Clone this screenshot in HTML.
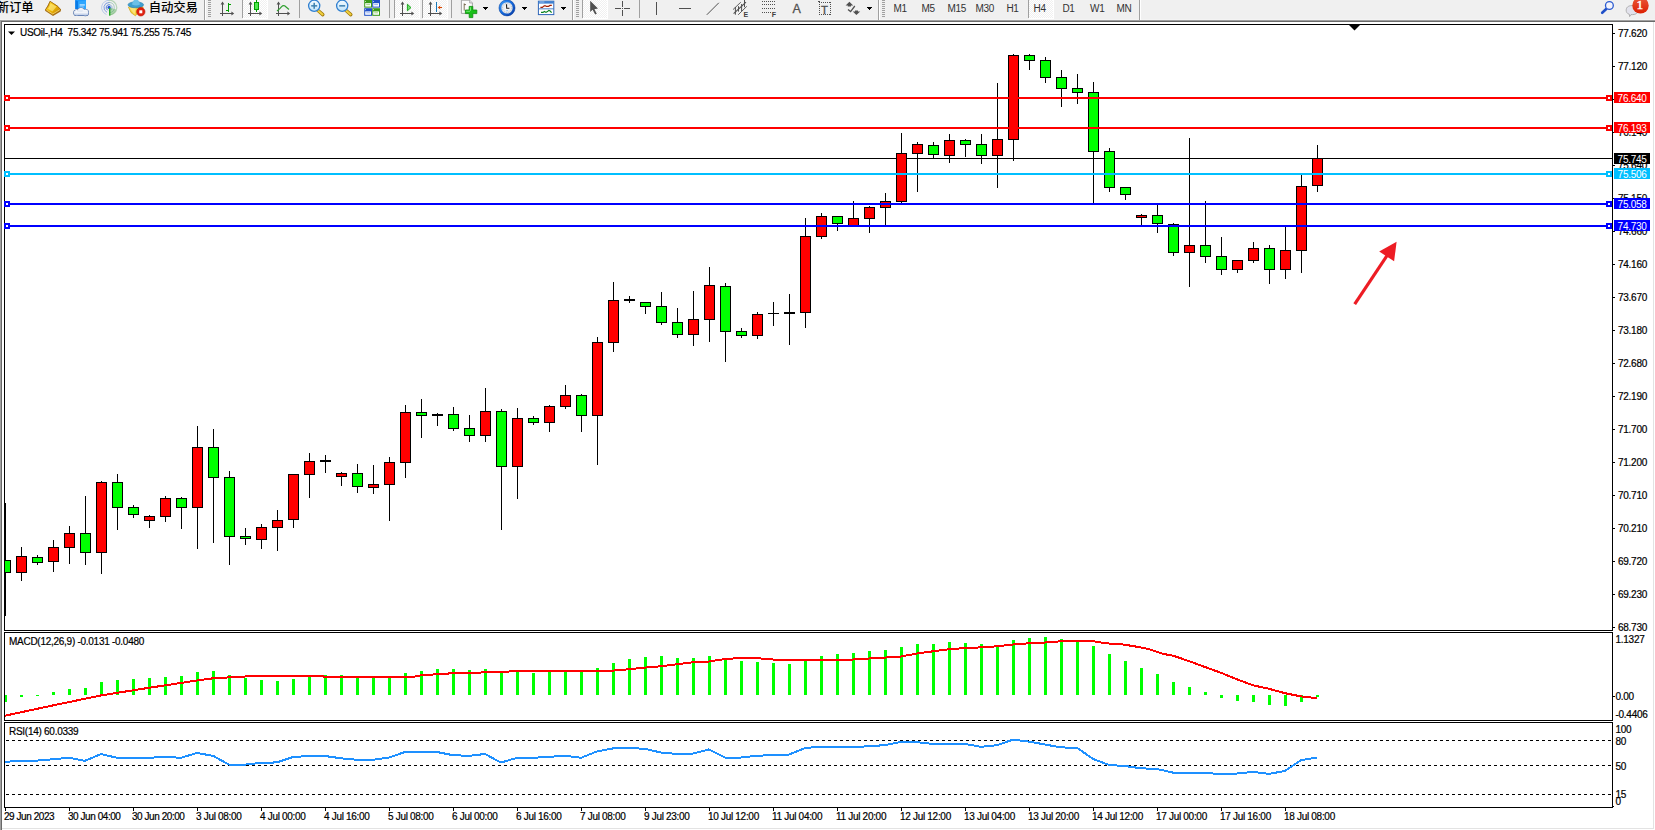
<!DOCTYPE html>
<html><head><meta charset="utf-8"><title>USOil-,H4</title>
<style>
html,body{margin:0;padding:0;background:#fff;}
body{width:1655px;height:830px;position:relative;overflow:hidden;font-family:"Liberation Sans","Noto Sans CJK SC",sans-serif;}
#tb{position:absolute;left:0;top:0;width:1655px;height:19px;background:#f0f0f0;}
.t{position:absolute;font-size:10px;line-height:12px;color:#000;white-space:pre;letter-spacing:-0.27px;margin-top:0.7px;-webkit-text-stroke:0.2px #000;}
.pl{left:1618px;}
.bx{position:absolute;left:1614px;width:36px;height:11px;}
.bx span{position:absolute;left:3.6px;top:0.6px;font-size:10px;line-height:12px;color:#fff;letter-spacing:-0.27px;}
.cj{position:absolute;font-size:12.4px;line-height:14px;color:#000;white-space:pre;font-weight:500;letter-spacing:-0.15px;}
.tf{position:absolute;top:3.4px;font-size:10px;line-height:12px;color:#333;letter-spacing:-0.3px;}
.sep{position:absolute;top:1px;width:1px;height:17px;background:#a0a0a0;}
.grip{position:absolute;top:2px;width:3px;height:15px;background:repeating-linear-gradient(#a0a0a0 0 1px,#f0f0f0 1px 2px);}
svg{position:absolute;left:0;top:0;}
</style></head><body>
<div id="tb"></div>
<div style="position:absolute;left:0;top:19px;width:1655px;height:1px;background:#f4f4f4"></div>
<div style="position:absolute;left:0;top:20px;width:1655px;height:1px;background:#a0a0a0"></div>
<div style="position:absolute;left:1px;top:21px;width:1654px;height:1px;background:#696969"></div>
<div style="position:absolute;left:0;top:20px;width:1px;height:810px;background:#a0a0a0"></div>
<div style="position:absolute;left:1px;top:21px;width:1px;height:809px;background:#696969"></div>
<div style="position:absolute;left:1653px;top:22px;width:1px;height:807px;background:#e3e3e3"></div>
<div style="position:absolute;left:2px;top:828px;width:1652px;height:1px;background:#e3e3e3"></div>
<svg width="1655" height="20" viewBox="0 0 1655 20" style="left:0;top:0">
<defs><pattern id="chk" width="2" height="2" patternUnits="userSpaceOnUse"><rect width="2" height="2" fill="#f0f0f0"/><rect width="1" height="1" fill="#fff"/><rect x="1" y="1" width="1" height="1" fill="#fff"/></pattern>
<linearGradient id="gold" x1="0" y1="0" x2="1" y2="1"><stop offset="0" stop-color="#ffe24a"/><stop offset="0.5" stop-color="#f0b800"/><stop offset="1" stop-color="#b87a10"/></linearGradient>
<linearGradient id="lens" x1="0" y1="0" x2="0" y2="1"><stop offset="0" stop-color="#f4fbff"/><stop offset="1" stop-color="#bfe3fa"/></linearGradient>
<linearGradient id="badge" x1="0" y1="0" x2="0" y2="1"><stop offset="0" stop-color="#ea5a3a"/><stop offset="1" stop-color="#dc1e00"/></linearGradient>
<linearGradient id="cndl" x1="0" y1="0" x2="1" y2="0"><stop offset="0" stop-color="#00b000"/><stop offset="0.5" stop-color="#60f060"/><stop offset="1" stop-color="#00b000"/></linearGradient>
<linearGradient id="cloud" x1="0" y1="0" x2="0" y2="1"><stop offset="0" stop-color="#ffffff"/><stop offset="1" stop-color="#b8c8e4"/></linearGradient>
<radialGradient id="clk" cx="0.5" cy="0.5" r="0.5"><stop offset="0" stop-color="#ffffff"/><stop offset="1" stop-color="#d0d8e0"/></radialGradient>
<linearGradient id="ring" x1="0" y1="0" x2="1" y2="1"><stop offset="0" stop-color="#3a9cf8"/><stop offset="0.5" stop-color="#1468dc"/><stop offset="1" stop-color="#0a40a8"/></linearGradient>
</defs>
<g shape-rendering="crispEdges"><rect x="243" y="0" width="24" height="18" fill="url(#chk)"/><rect x="242" y="0" width="1" height="18" fill="#a0a0a0"/><rect x="243" y="18" width="25" height="1" fill="#fff"/><rect x="267" y="0" width="1" height="19" fill="#fff"/></g>
<g shape-rendering="crispEdges"><rect x="395" y="0" width="24" height="18" fill="url(#chk)"/><rect x="394" y="0" width="1" height="18" fill="#a0a0a0"/><rect x="395" y="18" width="25" height="1" fill="#fff"/><rect x="419" y="0" width="1" height="19" fill="#fff"/></g>
<g shape-rendering="crispEdges"><rect x="423" y="0" width="24" height="18" fill="url(#chk)"/><rect x="422" y="0" width="1" height="18" fill="#a0a0a0"/><rect x="423" y="18" width="25" height="1" fill="#fff"/><rect x="447" y="0" width="1" height="19" fill="#fff"/></g>
<g shape-rendering="crispEdges"><rect x="583" y="0" width="24" height="18" fill="url(#chk)"/><rect x="582" y="0" width="1" height="18" fill="#a0a0a0"/><rect x="583" y="18" width="25" height="1" fill="#fff"/><rect x="607" y="0" width="1" height="19" fill="#fff"/></g>
<g shape-rendering="crispEdges"><rect x="1029" y="0" width="24" height="18" fill="url(#chk)"/><rect x="1028" y="0" width="1" height="18" fill="#a0a0a0"/><rect x="1029" y="18" width="25" height="1" fill="#fff"/><rect x="1053" y="0" width="1" height="19" fill="#fff"/></g>
<rect x="204" y="0" width="1" height="20" fill="#a0a0a0" shape-rendering="crispEdges"/>
<rect x="205" y="0" width="1" height="20" fill="#fff" shape-rendering="crispEdges"/>
<rect x="208" y="0" width="3" height="1" fill="#a0a0a0" shape-rendering="crispEdges"/>
<rect x="208" y="2" width="3" height="1" fill="#a0a0a0" shape-rendering="crispEdges"/>
<rect x="208" y="4" width="3" height="1" fill="#a0a0a0" shape-rendering="crispEdges"/>
<rect x="208" y="6" width="3" height="1" fill="#a0a0a0" shape-rendering="crispEdges"/>
<rect x="208" y="8" width="3" height="1" fill="#a0a0a0" shape-rendering="crispEdges"/>
<rect x="208" y="10" width="3" height="1" fill="#a0a0a0" shape-rendering="crispEdges"/>
<rect x="208" y="12" width="3" height="1" fill="#a0a0a0" shape-rendering="crispEdges"/>
<rect x="208" y="14" width="3" height="1" fill="#a0a0a0" shape-rendering="crispEdges"/>
<rect x="208" y="16" width="3" height="1" fill="#a0a0a0" shape-rendering="crispEdges"/>
<rect x="299" y="0" width="1" height="18" fill="#a0a0a0" shape-rendering="crispEdges"/>
<rect x="389" y="0" width="1" height="18" fill="#a0a0a0" shape-rendering="crispEdges"/>
<rect x="451" y="0" width="1" height="18" fill="#a0a0a0" shape-rendering="crispEdges"/>
<rect x="572" y="0" width="1" height="20" fill="#a0a0a0" shape-rendering="crispEdges"/>
<rect x="573" y="0" width="1" height="20" fill="#fff" shape-rendering="crispEdges"/>
<rect x="576" y="0" width="3" height="1" fill="#a0a0a0" shape-rendering="crispEdges"/>
<rect x="576" y="2" width="3" height="1" fill="#a0a0a0" shape-rendering="crispEdges"/>
<rect x="576" y="4" width="3" height="1" fill="#a0a0a0" shape-rendering="crispEdges"/>
<rect x="576" y="6" width="3" height="1" fill="#a0a0a0" shape-rendering="crispEdges"/>
<rect x="576" y="8" width="3" height="1" fill="#a0a0a0" shape-rendering="crispEdges"/>
<rect x="576" y="10" width="3" height="1" fill="#a0a0a0" shape-rendering="crispEdges"/>
<rect x="576" y="12" width="3" height="1" fill="#a0a0a0" shape-rendering="crispEdges"/>
<rect x="576" y="14" width="3" height="1" fill="#a0a0a0" shape-rendering="crispEdges"/>
<rect x="576" y="16" width="3" height="1" fill="#a0a0a0" shape-rendering="crispEdges"/>
<rect x="639" y="0" width="1" height="18" fill="#a0a0a0" shape-rendering="crispEdges"/>
<rect x="878" y="0" width="1" height="20" fill="#a0a0a0" shape-rendering="crispEdges"/>
<rect x="879" y="0" width="1" height="20" fill="#fff" shape-rendering="crispEdges"/>
<rect x="882" y="0" width="3" height="1" fill="#a0a0a0" shape-rendering="crispEdges"/>
<rect x="882" y="2" width="3" height="1" fill="#a0a0a0" shape-rendering="crispEdges"/>
<rect x="882" y="4" width="3" height="1" fill="#a0a0a0" shape-rendering="crispEdges"/>
<rect x="882" y="6" width="3" height="1" fill="#a0a0a0" shape-rendering="crispEdges"/>
<rect x="882" y="8" width="3" height="1" fill="#a0a0a0" shape-rendering="crispEdges"/>
<rect x="882" y="10" width="3" height="1" fill="#a0a0a0" shape-rendering="crispEdges"/>
<rect x="882" y="12" width="3" height="1" fill="#a0a0a0" shape-rendering="crispEdges"/>
<rect x="882" y="14" width="3" height="1" fill="#a0a0a0" shape-rendering="crispEdges"/>
<rect x="882" y="16" width="3" height="1" fill="#a0a0a0" shape-rendering="crispEdges"/>
<rect x="1139" y="0" width="1" height="20" fill="#a0a0a0" shape-rendering="crispEdges"/>
<rect x="1140" y="0" width="1" height="20" fill="#fff" shape-rendering="crispEdges"/>
<path d="M50 1.2 L57.4 5.8 L61 9.8 L60.6 11.6 L53 16 L45 10.8 L45.4 9.4 Z" fill="#a87014"/>
<path d="M50 1.3 Q53.4 3.4 57.2 6 L60.8 9.6 L52.8 14.4 L45.5 9.6 Q48.6 6.4 50 1.3 Z" fill="url(#gold)" stroke="#a06810" stroke-width="0.8"/>
<path d="M50.6 3.4 Q53.6 4.6 56.6 6.6 L52.4 11.4 L48 8.8 Q49.8 6.4 50.6 3.4Z" fill="#fff2a0" opacity="0.55"/>
<path d="M46.4 10 L52.8 14 L59.8 9.8" fill="none" stroke="#ffe070" stroke-width="0.8"/>
<path d="M75.3 0 L86 0 L86 9 L75.3 9 Z" fill="#1e9bff"/><path d="M75.3 0 L78.2 1.6 L78.2 9 L75.3 9 Z" fill="#0a7be6"/><path d="M78.2 1.6 L86 0.4 L86 9 L78.2 9Z" fill="#2ea6ff"/>
<rect x="79.6" y="4.4" width="5.2" height="1.1" fill="#e8f4ff"/><rect x="79.6" y="6.6" width="4" height="0.9" fill="#bfe0ff"/>
<g fill="#4f6fa8" stroke="#4f6fa8" stroke-width="1.2"><circle cx="76.6" cy="12.8" r="2.7"/><circle cx="81" cy="11.3" r="3.3"/><circle cx="85.4" cy="12.6" r="3"/><rect x="74.3" y="11.8" width="13.8" height="3.5" rx="1.75"/></g><g fill="url(#cloud)"><circle cx="76.6" cy="12.8" r="2.7"/><circle cx="81" cy="11.3" r="3.3"/><circle cx="85.4" cy="12.6" r="3"/><rect x="74.3" y="11.8" width="13.8" height="3.5" rx="1.75"/></g>
<g fill="none" stroke-linecap="round"><path d="M109.1 0.1999999999999993 A7.4 7.4 0 0 0 106.1 14.399999999999999" stroke="#7f9fe0" stroke-width="0.9" opacity="0.55"/><path d="M109.1 2.3999999999999995 A5.2 5.2 0 0 0 106.69999999999999 12.2" stroke="#4f78d8" stroke-width="1" opacity="0.7"/><path d="M109.1 4.6 A3 3 0 0 0 107.5 10.1" stroke="#3a66d0" stroke-width="1" opacity="0.8"/>
<path d="M109.1 0.1999999999999993 A7.4 7.4 0 0 1 109.6 15.0" stroke="#8fc08f" stroke-width="1.2" opacity="0.6"/><path d="M109.1 2.3999999999999995 A5.2 5.2 0 0 1 110.1 12.7" stroke="#7fb0a8" stroke-width="1" opacity="0.6"/><path d="M109.1 4.6 A3 3 0 0 1 111.1 9.8" stroke="#6a98c8" stroke-width="1" opacity="0.7"/></g>
<path d="M109.3 7.6 L116.1 9.6 A7.4 7.4 0 0 1 109.5 15.399999999999999 Z" fill="#58b058" opacity="0.45"/>
<circle cx="109.1" cy="7.3999999999999995" r="1.6" fill="#2458d0"/><rect x="109.0" y="8.0" width="1.4" height="7.6" fill="#20a820"/>
<path d="M128.4 7 L143.4 7 L139 12 L135.4 15.8 L131 12.6 Z" fill="#f4d23c" stroke="#d0a020" stroke-width="0.7"/>
<path d="M129 7.2 L136 7.2 L134.5 14.6 Z" fill="#fbe98a" opacity="0.8"/>
<ellipse cx="135.8" cy="4.8" rx="7.8" ry="3" fill="#3f9fd0" stroke="#2a80b0" stroke-width="0.6"/><path d="M132 4.6 Q132.6 0.6 134.6 -0.4 L137.4 -0.4 Q139.4 0.6 140 4.6 Q136 6.4 132 4.6Z" fill="#6cc0e8"/>
<circle cx="140.8" cy="11.8" r="4.2" fill="#e02010"/><circle cx="140.8" cy="11.8" r="4.2" fill="none" stroke="#b81808" stroke-width="0.6"/><rect x="139.3" y="10.3" width="3" height="3" fill="#fff"/>
<g shape-rendering="crispEdges" fill="#505050"><rect x="222" y="3" width="1" height="13"/><rect x="220" y="13" width="13" height="1"/></g>
<path d="M222.5 1.6 L224.4 4.6 L220.6 4.6 Z M234.2 13.5 L231.4 11.6 L231.4 15.4 Z" fill="#505050"/>
<g shape-rendering="crispEdges" fill="#505050"><rect x="250" y="3" width="1" height="13"/><rect x="248" y="13" width="13" height="1"/></g>
<path d="M250.5 1.6 L252.4 4.6 L248.6 4.6 Z M262.2 13.5 L259.4 11.6 L259.4 15.4 Z" fill="#505050"/>
<g shape-rendering="crispEdges" fill="#505050"><rect x="278" y="3" width="1" height="13"/><rect x="276" y="13" width="13" height="1"/></g>
<path d="M278.5 1.6 L280.4 4.6 L276.6 4.6 Z M290.2 13.5 L287.4 11.6 L287.4 15.4 Z" fill="#505050"/>
<g shape-rendering="crispEdges" fill="#505050"><rect x="402" y="3" width="1" height="13"/><rect x="400" y="13" width="13" height="1"/></g>
<path d="M402.5 1.6 L404.4 4.6 L400.6 4.6 Z M414.2 13.5 L411.4 11.6 L411.4 15.4 Z" fill="#505050"/>
<g shape-rendering="crispEdges" fill="#505050"><rect x="430" y="3" width="1" height="13"/><rect x="428" y="13" width="13" height="1"/></g>
<path d="M430.5 1.6 L432.4 4.6 L428.6 4.6 Z M442.2 13.5 L439.4 11.6 L439.4 15.4 Z" fill="#505050"/>
<g shape-rendering="crispEdges" fill="#00a000"><rect x="228" y="3" width="1" height="9"/><rect x="228" y="4" width="3" height="1"/><rect x="226" y="10" width="3" height="1"/></g>
<g shape-rendering="crispEdges"><rect x="256" y="0" width="1" height="12" fill="#00a000"/><rect x="254" y="2" width="5" height="8" fill="#00a000"/><rect x="255" y="3" width="3" height="6" fill="#50e850"/></g>
<path d="M277 11 Q280 8.6 281.4 6.8 Q283 5 284.6 5.8 Q286.6 7.6 289 9.4" fill="none" stroke="#30a030" stroke-width="1.2"/>
<path d="M407.4 4.2 L411 7.6 L407.4 10.8 Z" fill="#70e070" stroke="#10a010" stroke-width="0.9"/>
<rect x="436" y="2" width="1" height="10" fill="#1878b8" shape-rendering="crispEdges"/><path d="M437.6 7.5 L440.4 5.6 L440 7.1 L442 7.1 L442 7.9 L440 7.9 L440.4 9.4 Z" fill="#d84800"/>
<line x1="317.8" y1="10.2" x2="322.8" y2="14.6" stroke="#a07808" stroke-width="3.4" stroke-linecap="round"/><line x1="318.0" y1="10.4" x2="322.59999999999997" y2="14.4" stroke="#f0d040" stroke-width="2" stroke-linecap="round"/>
<circle cx="314.2" cy="5.8" r="5.6" fill="url(#lens)" stroke="#2f7fd0" stroke-width="1.3"/>
<rect x="311.2" y="5.1" width="6" height="1.5" fill="#3c80b0"/>
<rect x="313.45" y="2.8" width="1.5" height="6" fill="#3c80b0"/>
<line x1="345.8" y1="10.2" x2="350.8" y2="14.6" stroke="#a07808" stroke-width="3.4" stroke-linecap="round"/><line x1="346.0" y1="10.4" x2="350.59999999999997" y2="14.4" stroke="#f0d040" stroke-width="2" stroke-linecap="round"/>
<circle cx="342.2" cy="5.8" r="5.6" fill="url(#lens)" stroke="#2f7fd0" stroke-width="1.3"/>
<rect x="339.2" y="5.1" width="6" height="1.5" fill="#3c80b0"/>
<rect x="364.2" y="0" width="7.8" height="7.6" fill="#3a9a18"/><rect x="365.2" y="3.2" width="5.8" height="3.4" fill="#fff"/><rect x="366.2" y="4.2" width="3.8" height="0.9" fill="#9ad070"/><rect x="365.0" y="1" width="0.9" height="0.9" fill="#fff" opacity="0.8"/>
<rect x="372.2" y="0" width="7.8" height="7.6" fill="#2050c8"/><rect x="373.2" y="3.2" width="5.8" height="3.4" fill="#fff"/><rect x="374.2" y="4.2" width="3.8" height="0.9" fill="#88a8f0"/><rect x="373.0" y="1" width="0.9" height="0.9" fill="#fff" opacity="0.8"/>
<rect x="364.2" y="8.2" width="7.8" height="7.6" fill="#2050c8"/><rect x="365.2" y="11.399999999999999" width="5.8" height="3.4" fill="#fff"/><rect x="366.2" y="12.399999999999999" width="3.8" height="0.9" fill="#88a8f0"/><rect x="365.0" y="9.2" width="0.9" height="0.9" fill="#fff" opacity="0.8"/>
<rect x="372.2" y="8.2" width="7.8" height="7.6" fill="#3a9a18"/><rect x="373.2" y="11.399999999999999" width="5.8" height="3.4" fill="#fff"/><rect x="374.2" y="12.399999999999999" width="3.8" height="0.9" fill="#9ad070"/><rect x="373.0" y="9.2" width="0.9" height="0.9" fill="#fff" opacity="0.8"/>
<path d="M461.4 0.2 L469.6 0.2 L472.4 3 L472.4 13.4 L461.4 13.4 Z" fill="#fafafa" stroke="#909090" stroke-width="0.8"/><path d="M469.6 0.2 L469.6 3 L472.4 3" fill="#e0e0e0" stroke="#909090" stroke-width="0.6"/><path d="M464.2 3.4 L464.2 10.6 M464.2 4.6 L466 4.6" stroke="#605030" stroke-width="0.8" fill="none"/>
<path d="M469.2 6.4 L472.8 6.4 L472.8 10 L476.8 10 L476.8 13.6 L472.8 13.6 L472.8 17.6 L469.2 17.6 L469.2 13.6 L465.4 13.6 L465.4 10 L469.2 10 Z" fill="#18c018" stroke="#0a8a0a" stroke-width="0.8"/><path d="M469.9 7.2 L471 7.2 L471 10.8 L466.2 10.8 L466.2 11.8 L470 11.8Z" fill="#90f090" opacity="0.8"/>
<g shape-rendering="crispEdges" fill="#000"><rect x="483" y="7" width="5" height="1"/><rect x="484" y="8" width="3" height="1"/><rect x="485" y="9" width="1" height="1"/></g>
<g shape-rendering="crispEdges" fill="#000"><rect x="522" y="7" width="5" height="1"/><rect x="523" y="8" width="3" height="1"/><rect x="524" y="9" width="1" height="1"/></g>
<g shape-rendering="crispEdges" fill="#000"><rect x="561" y="7" width="5" height="1"/><rect x="562" y="8" width="3" height="1"/><rect x="563" y="9" width="1" height="1"/></g>
<g shape-rendering="crispEdges" fill="#000"><rect x="867" y="7" width="5" height="1"/><rect x="868" y="8" width="3" height="1"/><rect x="869" y="9" width="1" height="1"/></g>
<circle cx="507" cy="7.9" r="6.9" fill="url(#clk)" stroke="url(#ring)" stroke-width="2.4"/><circle cx="507" cy="7.9" r="8.05" fill="none" stroke="#0a3c98" stroke-width="0.5"/><circle cx="507" cy="7.9" r="4.6" fill="none" stroke="#9aa4b0" stroke-width="0.8" stroke-dasharray="0.6 1.81"/><path d="M506.5 4.2 L506.7 8.2 L509.4 8.3" fill="none" stroke="#181818" stroke-width="1.1"/><rect x="506.2" y="10.4" width="1.8" height="0.7" fill="#70b0f8"/>
<rect x="505.2" y="-0.6" width="3.6" height="1.2" fill="#1a70e0"/>
<rect x="538.4" y="1.2" width="15.4" height="13.4" fill="#fff" stroke="#2f66b8" stroke-width="1"/><rect x="538.4" y="1.2" width="15.4" height="2.4" fill="#3f80d0"/><rect x="539.4" y="1.6" width="5" height="0.8" fill="#b0d0f8"/><rect x="538.4" y="8.4" width="15.4" height="0.9" fill="#3a74c0"/>
<path d="M540.4 7.4 L542.4 7.4 L543.6 6.2 L545 5.6 L546.4 6.4 L548.4 6.4 L550 5.4 L551.8 5.4" fill="none" stroke="#a01c00" stroke-width="1.2"/><path d="M541 12.4 L543 12.4 L544.4 11.4 L546 12.4 L547.4 11.6 L548.8 10.4 L550.2 11 L551.6 12.6" fill="none" stroke="#0c8420" stroke-width="1.2"/>
<path d="M590.2 0.8 L590.2 12 L592.6 9.8 L595.2 14.6 L596.8 13.8 L594.4 9.2 L598 8.6 Z" fill="#505050"/>
<g shape-rendering="crispEdges" fill="#505050"><rect x="615" y="8" width="6" height="1"/><rect x="624" y="8" width="6" height="1"/><rect x="622" y="1" width="1" height="6"/><rect x="622" y="10" width="1" height="6"/><rect x="622" y="8" width="1" height="1"/></g>
<g shape-rendering="crispEdges" fill="#505050"><rect x="656" y="2" width="1" height="13"/><rect x="679" y="8" width="12" height="1"/></g>
<line x1="706.8" y1="14.8" x2="718.8" y2="2.8" stroke="#505050" stroke-width="1"/>
<g stroke="#505050" stroke-width="0.9" fill="none"><line x1="733" y1="9.6" x2="740.8" y2="2.2"/><line x1="738.2" y1="14.8" x2="746.8" y2="6.3"/><line x1="733.6" y1="13.6" x2="746" y2="2.2" stroke-width="1.1"/><line x1="735.4" y1="7" x2="735.4" y2="14.7" stroke-width="1"/><line x1="738.5" y1="6.2" x2="738.5" y2="11.6" stroke-width="1"/><line x1="741.6" y1="4" x2="741.6" y2="11" stroke-width="1"/><line x1="744.5" y1="0" x2="744.5" y2="7.2" stroke-width="1"/></g>
<rect x="762" y="1" width="1" height="1" fill="#505050" shape-rendering="crispEdges"/>
<rect x="764" y="1" width="1" height="1" fill="#505050" shape-rendering="crispEdges"/>
<rect x="766" y="1" width="1" height="1" fill="#505050" shape-rendering="crispEdges"/>
<rect x="768" y="1" width="1" height="1" fill="#505050" shape-rendering="crispEdges"/>
<rect x="770" y="1" width="1" height="1" fill="#505050" shape-rendering="crispEdges"/>
<rect x="772" y="1" width="1" height="1" fill="#505050" shape-rendering="crispEdges"/>
<rect x="774" y="1" width="1" height="1" fill="#505050" shape-rendering="crispEdges"/>
<rect x="762" y="4" width="1" height="1" fill="#505050" shape-rendering="crispEdges"/>
<rect x="764" y="4" width="1" height="1" fill="#505050" shape-rendering="crispEdges"/>
<rect x="766" y="4" width="1" height="1" fill="#505050" shape-rendering="crispEdges"/>
<rect x="768" y="4" width="1" height="1" fill="#505050" shape-rendering="crispEdges"/>
<rect x="770" y="4" width="1" height="1" fill="#505050" shape-rendering="crispEdges"/>
<rect x="772" y="4" width="1" height="1" fill="#505050" shape-rendering="crispEdges"/>
<rect x="774" y="4" width="1" height="1" fill="#505050" shape-rendering="crispEdges"/>
<rect x="762" y="8" width="1" height="1" fill="#505050" shape-rendering="crispEdges"/>
<rect x="764" y="8" width="1" height="1" fill="#505050" shape-rendering="crispEdges"/>
<rect x="766" y="8" width="1" height="1" fill="#505050" shape-rendering="crispEdges"/>
<rect x="768" y="8" width="1" height="1" fill="#505050" shape-rendering="crispEdges"/>
<rect x="770" y="8" width="1" height="1" fill="#505050" shape-rendering="crispEdges"/>
<rect x="772" y="8" width="1" height="1" fill="#505050" shape-rendering="crispEdges"/>
<rect x="774" y="8" width="1" height="1" fill="#505050" shape-rendering="crispEdges"/>
<rect x="762" y="12" width="1" height="1" fill="#505050" shape-rendering="crispEdges"/>
<rect x="764" y="12" width="1" height="1" fill="#505050" shape-rendering="crispEdges"/>
<rect x="766" y="12" width="1" height="1" fill="#505050" shape-rendering="crispEdges"/>
<rect x="768" y="12" width="1" height="1" fill="#505050" shape-rendering="crispEdges"/>
<rect x="770" y="12" width="1" height="1" fill="#505050" shape-rendering="crispEdges"/>
<rect x="819" y="2" width="1" height="1" fill="#505050" shape-rendering="crispEdges"/><rect x="819" y="14" width="1" height="1" fill="#505050" shape-rendering="crispEdges"/>
<rect x="821" y="2" width="1" height="1" fill="#505050" shape-rendering="crispEdges"/><rect x="821" y="14" width="1" height="1" fill="#505050" shape-rendering="crispEdges"/>
<rect x="823" y="2" width="1" height="1" fill="#505050" shape-rendering="crispEdges"/><rect x="823" y="14" width="1" height="1" fill="#505050" shape-rendering="crispEdges"/>
<rect x="825" y="2" width="1" height="1" fill="#505050" shape-rendering="crispEdges"/><rect x="825" y="14" width="1" height="1" fill="#505050" shape-rendering="crispEdges"/>
<rect x="827" y="2" width="1" height="1" fill="#505050" shape-rendering="crispEdges"/><rect x="827" y="14" width="1" height="1" fill="#505050" shape-rendering="crispEdges"/>
<rect x="829" y="2" width="1" height="1" fill="#505050" shape-rendering="crispEdges"/><rect x="829" y="14" width="1" height="1" fill="#505050" shape-rendering="crispEdges"/>
<rect x="819" y="2" width="1" height="1" fill="#505050" shape-rendering="crispEdges"/><rect x="830" y="2" width="1" height="1" fill="#505050" shape-rendering="crispEdges"/>
<rect x="819" y="4" width="1" height="1" fill="#505050" shape-rendering="crispEdges"/><rect x="830" y="4" width="1" height="1" fill="#505050" shape-rendering="crispEdges"/>
<rect x="819" y="6" width="1" height="1" fill="#505050" shape-rendering="crispEdges"/><rect x="830" y="6" width="1" height="1" fill="#505050" shape-rendering="crispEdges"/>
<rect x="819" y="8" width="1" height="1" fill="#505050" shape-rendering="crispEdges"/><rect x="830" y="8" width="1" height="1" fill="#505050" shape-rendering="crispEdges"/>
<rect x="819" y="10" width="1" height="1" fill="#505050" shape-rendering="crispEdges"/><rect x="830" y="10" width="1" height="1" fill="#505050" shape-rendering="crispEdges"/>
<rect x="819" y="12" width="1" height="1" fill="#505050" shape-rendering="crispEdges"/><rect x="830" y="12" width="1" height="1" fill="#505050" shape-rendering="crispEdges"/>
<rect x="819" y="14" width="1" height="1" fill="#505050" shape-rendering="crispEdges"/><rect x="830" y="14" width="1" height="1" fill="#505050" shape-rendering="crispEdges"/>
<rect x="818" y="1" width="2" height="1" fill="#505050" shape-rendering="crispEdges"/>
<path d="M849.4 1.8 L853.2 5.4 L851 5.4 L851 6.4 L847.8 6.4 L847.8 5.4 L845.6 5.4 Z" fill="#505050"/><path d="M848 9.4 L850.6 11.6 L854.8 6" fill="none" stroke="#505050" stroke-width="1.3"/><path d="M856.4 15 L852.8 11.4 L855 11.4 L855 10.4 L858 10.4 L858 11.4 L860.2 11.4 Z" fill="#505050"/>
<line x1="1606.2" y1="9" x2="1602.2" y2="12.8" stroke="#2050c8" stroke-width="2.6" stroke-linecap="round"/><circle cx="1609.4" cy="5.5" r="3.9" fill="#f4f4fc" stroke="#2a5ad0" stroke-width="1.3"/>
<path d="M1632 5.6 C1636 5.6 1638 7.6 1638 10.2 C1638 13 1636 14.6 1632.6 14.6 L1631 14.6 L1629.6 16.6 L1629.4 14.4 C1627 13.6 1626.2 12 1626.2 10.2 C1626.2 7.6 1628 5.6 1632 5.6 Z" fill="#e2e2ec" stroke="#a8a8a8" stroke-width="0.9"/>
<circle cx="1640.5" cy="5.4" r="8.2" fill="url(#badge)"/>
</svg>
<div class="cj" style="left:-3.2px;top:0.8px">新订单</div>
<div class="cj" style="left:148.8px;top:0.8px">自动交易</div>
<div class="tf" style="left:893.4px">M1</div>
<div class="tf" style="left:921.4px">M5</div>
<div class="tf" style="left:947.4px">M15</div>
<div class="tf" style="left:975.4px">M30</div>
<div class="tf" style="left:1006.4px">H1</div>
<div class="tf" style="left:1033.6px">H4</div>
<div class="tf" style="left:1062.4px">D1</div>
<div class="tf" style="left:1090px">W1</div>
<div class="tf" style="left:1116.4px">MN</div>
<div style="position:absolute;left:792.4px;top:2.2px;font-size:12.5px;line-height:14px;color:#505050;-webkit-text-stroke:0.3px #505050">A</div>
<div style="position:absolute;left:820.9px;top:2.6px;font-size:11.4px;line-height:14px;color:#505050;-webkit-text-stroke:0.35px #505050">T</div>
<div style="position:absolute;left:743.6px;top:11.3px;font-size:7px;line-height:8px;font-weight:bold;color:#404040">E</div>
<div style="position:absolute;left:771.8px;top:11.3px;font-size:7px;line-height:8px;font-weight:bold;color:#404040">F</div>
<div style="position:absolute;left:1636.6px;top:-1.9px;font-size:13.4px;line-height:14px;font-family:'Liberation Serif',serif;font-weight:normal;-webkit-text-stroke:0.45px #fff;color:#fff">1</div>

<svg width="1655" height="830" viewBox="0 0 1655 830" shape-rendering="crispEdges">
<rect x="5" y="158" width="1607" height="1" fill="#000"/>
<rect x="5" y="503" width="1" height="113" fill="#000"/>
<rect x="5" y="560" width="6" height="13" fill="#000"/>
<rect x="5" y="561" width="5" height="11" fill="#0f0"/>
<rect x="21" y="547" width="1" height="34" fill="#000"/>
<rect x="16" y="556" width="11" height="17" fill="#000"/>
<rect x="17" y="557" width="9" height="15" fill="#f00"/>
<rect x="37" y="555" width="1" height="10" fill="#000"/>
<rect x="32" y="557" width="11" height="6" fill="#000"/>
<rect x="33" y="558" width="9" height="4" fill="#0f0"/>
<rect x="53" y="540" width="1" height="32" fill="#000"/>
<rect x="48" y="547" width="11" height="15" fill="#000"/>
<rect x="49" y="548" width="9" height="13" fill="#f00"/>
<rect x="69" y="526" width="1" height="38" fill="#000"/>
<rect x="64" y="533" width="11" height="15" fill="#000"/>
<rect x="65" y="534" width="9" height="13" fill="#f00"/>
<rect x="85" y="496" width="1" height="69" fill="#000"/>
<rect x="80" y="533" width="11" height="20" fill="#000"/>
<rect x="81" y="534" width="9" height="18" fill="#0f0"/>
<rect x="101" y="481" width="1" height="93" fill="#000"/>
<rect x="96" y="482" width="11" height="71" fill="#000"/>
<rect x="97" y="483" width="9" height="69" fill="#f00"/>
<rect x="117" y="474" width="1" height="56" fill="#000"/>
<rect x="112" y="482" width="11" height="26" fill="#000"/>
<rect x="113" y="483" width="9" height="24" fill="#0f0"/>
<rect x="133" y="505" width="1" height="13" fill="#000"/>
<rect x="128" y="507" width="11" height="8" fill="#000"/>
<rect x="129" y="508" width="9" height="6" fill="#0f0"/>
<rect x="149" y="515" width="1" height="13" fill="#000"/>
<rect x="144" y="516" width="11" height="5" fill="#000"/>
<rect x="145" y="517" width="9" height="3" fill="#f00"/>
<rect x="165" y="496" width="1" height="26" fill="#000"/>
<rect x="160" y="498" width="11" height="19" fill="#000"/>
<rect x="161" y="499" width="9" height="17" fill="#f00"/>
<rect x="181" y="497" width="1" height="32" fill="#000"/>
<rect x="176" y="498" width="11" height="10" fill="#000"/>
<rect x="177" y="499" width="9" height="8" fill="#0f0"/>
<rect x="197" y="426" width="1" height="123" fill="#000"/>
<rect x="192" y="447" width="11" height="61" fill="#000"/>
<rect x="193" y="448" width="9" height="59" fill="#f00"/>
<rect x="213" y="429" width="1" height="114" fill="#000"/>
<rect x="208" y="447" width="11" height="31" fill="#000"/>
<rect x="209" y="448" width="9" height="29" fill="#0f0"/>
<rect x="229" y="471" width="1" height="94" fill="#000"/>
<rect x="224" y="477" width="11" height="60" fill="#000"/>
<rect x="225" y="478" width="9" height="58" fill="#0f0"/>
<rect x="245" y="528" width="1" height="17" fill="#000"/>
<rect x="240" y="536" width="11" height="3" fill="#000"/>
<rect x="241" y="537" width="9" height="1" fill="#0f0"/>
<rect x="261" y="524" width="1" height="25" fill="#000"/>
<rect x="256" y="527" width="11" height="13" fill="#000"/>
<rect x="257" y="528" width="9" height="11" fill="#f00"/>
<rect x="277" y="510" width="1" height="41" fill="#000"/>
<rect x="272" y="520" width="11" height="8" fill="#000"/>
<rect x="273" y="521" width="9" height="6" fill="#f00"/>
<rect x="293" y="474" width="1" height="54" fill="#000"/>
<rect x="288" y="474" width="11" height="46" fill="#000"/>
<rect x="289" y="475" width="9" height="44" fill="#f00"/>
<rect x="309" y="453" width="1" height="45" fill="#000"/>
<rect x="304" y="461" width="11" height="14" fill="#000"/>
<rect x="305" y="462" width="9" height="12" fill="#f00"/>
<rect x="325" y="455" width="1" height="18" fill="#000"/>
<rect x="320" y="460" width="11" height="2" fill="#000"/>
<rect x="341" y="472" width="1" height="14" fill="#000"/>
<rect x="336" y="473" width="11" height="4" fill="#000"/>
<rect x="337" y="474" width="9" height="2" fill="#f00"/>
<rect x="357" y="464" width="1" height="29" fill="#000"/>
<rect x="352" y="473" width="11" height="14" fill="#000"/>
<rect x="353" y="474" width="9" height="12" fill="#0f0"/>
<rect x="373" y="465" width="1" height="29" fill="#000"/>
<rect x="368" y="484" width="11" height="4" fill="#000"/>
<rect x="369" y="485" width="9" height="2" fill="#f00"/>
<rect x="389" y="457" width="1" height="64" fill="#000"/>
<rect x="384" y="462" width="11" height="23" fill="#000"/>
<rect x="385" y="463" width="9" height="21" fill="#f00"/>
<rect x="405" y="405" width="1" height="73" fill="#000"/>
<rect x="400" y="412" width="11" height="51" fill="#000"/>
<rect x="401" y="413" width="9" height="49" fill="#f00"/>
<rect x="421" y="399" width="1" height="39" fill="#000"/>
<rect x="416" y="412" width="11" height="4" fill="#000"/>
<rect x="417" y="413" width="9" height="2" fill="#0f0"/>
<rect x="437" y="413" width="1" height="13" fill="#000"/>
<rect x="432" y="414" width="11" height="2" fill="#000"/>
<rect x="453" y="407" width="1" height="24" fill="#000"/>
<rect x="448" y="414" width="11" height="15" fill="#000"/>
<rect x="449" y="415" width="9" height="13" fill="#0f0"/>
<rect x="469" y="415" width="1" height="27" fill="#000"/>
<rect x="464" y="428" width="11" height="8" fill="#000"/>
<rect x="465" y="429" width="9" height="6" fill="#0f0"/>
<rect x="485" y="388" width="1" height="54" fill="#000"/>
<rect x="480" y="411" width="11" height="25" fill="#000"/>
<rect x="481" y="412" width="9" height="23" fill="#f00"/>
<rect x="501" y="409" width="1" height="121" fill="#000"/>
<rect x="496" y="411" width="11" height="56" fill="#000"/>
<rect x="497" y="412" width="9" height="54" fill="#0f0"/>
<rect x="517" y="408" width="1" height="91" fill="#000"/>
<rect x="512" y="418" width="11" height="49" fill="#000"/>
<rect x="513" y="419" width="9" height="47" fill="#f00"/>
<rect x="533" y="416" width="1" height="9" fill="#000"/>
<rect x="528" y="418" width="11" height="5" fill="#000"/>
<rect x="529" y="419" width="9" height="3" fill="#0f0"/>
<rect x="549" y="405" width="1" height="27" fill="#000"/>
<rect x="544" y="406" width="11" height="17" fill="#000"/>
<rect x="545" y="407" width="9" height="15" fill="#f00"/>
<rect x="565" y="385" width="1" height="24" fill="#000"/>
<rect x="560" y="395" width="11" height="12" fill="#000"/>
<rect x="561" y="396" width="9" height="10" fill="#f00"/>
<rect x="581" y="394" width="1" height="38" fill="#000"/>
<rect x="576" y="395" width="11" height="21" fill="#000"/>
<rect x="577" y="396" width="9" height="19" fill="#0f0"/>
<rect x="597" y="337" width="1" height="128" fill="#000"/>
<rect x="592" y="342" width="11" height="74" fill="#000"/>
<rect x="593" y="343" width="9" height="72" fill="#f00"/>
<rect x="613" y="282" width="1" height="70" fill="#000"/>
<rect x="608" y="300" width="11" height="43" fill="#000"/>
<rect x="609" y="301" width="9" height="41" fill="#f00"/>
<rect x="629" y="296" width="1" height="7" fill="#000"/>
<rect x="624" y="299" width="11" height="2" fill="#000"/>
<rect x="645" y="302" width="1" height="12" fill="#000"/>
<rect x="640" y="302" width="11" height="5" fill="#000"/>
<rect x="641" y="303" width="9" height="3" fill="#0f0"/>
<rect x="661" y="292" width="1" height="33" fill="#000"/>
<rect x="656" y="306" width="11" height="17" fill="#000"/>
<rect x="657" y="307" width="9" height="15" fill="#0f0"/>
<rect x="677" y="308" width="1" height="30" fill="#000"/>
<rect x="672" y="322" width="11" height="13" fill="#000"/>
<rect x="673" y="323" width="9" height="11" fill="#0f0"/>
<rect x="693" y="291" width="1" height="55" fill="#000"/>
<rect x="688" y="319" width="11" height="16" fill="#000"/>
<rect x="689" y="320" width="9" height="14" fill="#f00"/>
<rect x="709" y="267" width="1" height="75" fill="#000"/>
<rect x="704" y="285" width="11" height="35" fill="#000"/>
<rect x="705" y="286" width="9" height="33" fill="#f00"/>
<rect x="725" y="283" width="1" height="79" fill="#000"/>
<rect x="720" y="286" width="11" height="46" fill="#000"/>
<rect x="721" y="287" width="9" height="44" fill="#0f0"/>
<rect x="741" y="328" width="1" height="10" fill="#000"/>
<rect x="736" y="331" width="11" height="5" fill="#000"/>
<rect x="737" y="332" width="9" height="3" fill="#0f0"/>
<rect x="757" y="312" width="1" height="27" fill="#000"/>
<rect x="752" y="314" width="11" height="22" fill="#000"/>
<rect x="753" y="315" width="9" height="20" fill="#f00"/>
<rect x="773" y="302" width="1" height="24" fill="#000"/>
<rect x="768" y="313" width="11" height="1" fill="#000"/>
<rect x="789" y="294" width="1" height="51" fill="#000"/>
<rect x="784" y="312" width="11" height="2" fill="#000"/>
<rect x="805" y="218" width="1" height="110" fill="#000"/>
<rect x="800" y="236" width="11" height="77" fill="#000"/>
<rect x="801" y="237" width="9" height="75" fill="#f00"/>
<rect x="821" y="213" width="1" height="26" fill="#000"/>
<rect x="816" y="216" width="11" height="21" fill="#000"/>
<rect x="817" y="217" width="9" height="19" fill="#f00"/>
<rect x="837" y="216" width="1" height="15" fill="#000"/>
<rect x="832" y="216" width="11" height="8" fill="#000"/>
<rect x="833" y="217" width="9" height="6" fill="#0f0"/>
<rect x="853" y="201" width="1" height="25" fill="#000"/>
<rect x="848" y="218" width="11" height="8" fill="#000"/>
<rect x="849" y="219" width="9" height="6" fill="#f00"/>
<rect x="869" y="206" width="1" height="27" fill="#000"/>
<rect x="864" y="207" width="11" height="12" fill="#000"/>
<rect x="865" y="208" width="9" height="10" fill="#f00"/>
<rect x="885" y="193" width="1" height="32" fill="#000"/>
<rect x="880" y="201" width="11" height="7" fill="#000"/>
<rect x="881" y="202" width="9" height="5" fill="#f00"/>
<rect x="901" y="133" width="1" height="70" fill="#000"/>
<rect x="896" y="153" width="11" height="49" fill="#000"/>
<rect x="897" y="154" width="9" height="47" fill="#f00"/>
<rect x="917" y="142" width="1" height="50" fill="#000"/>
<rect x="912" y="144" width="11" height="10" fill="#000"/>
<rect x="913" y="145" width="9" height="8" fill="#f00"/>
<rect x="933" y="142" width="1" height="17" fill="#000"/>
<rect x="928" y="145" width="11" height="10" fill="#000"/>
<rect x="929" y="146" width="9" height="8" fill="#0f0"/>
<rect x="949" y="134" width="1" height="29" fill="#000"/>
<rect x="944" y="140" width="11" height="16" fill="#000"/>
<rect x="945" y="141" width="9" height="14" fill="#f00"/>
<rect x="965" y="139" width="1" height="18" fill="#000"/>
<rect x="960" y="140" width="11" height="5" fill="#000"/>
<rect x="961" y="141" width="9" height="3" fill="#0f0"/>
<rect x="981" y="134" width="1" height="30" fill="#000"/>
<rect x="976" y="144" width="11" height="12" fill="#000"/>
<rect x="977" y="145" width="9" height="10" fill="#0f0"/>
<rect x="997" y="83" width="1" height="105" fill="#000"/>
<rect x="992" y="139" width="11" height="17" fill="#000"/>
<rect x="993" y="140" width="9" height="15" fill="#f00"/>
<rect x="1013" y="54" width="1" height="107" fill="#000"/>
<rect x="1008" y="55" width="11" height="85" fill="#000"/>
<rect x="1009" y="56" width="9" height="83" fill="#f00"/>
<rect x="1029" y="54" width="1" height="16" fill="#000"/>
<rect x="1024" y="55" width="11" height="6" fill="#000"/>
<rect x="1025" y="56" width="9" height="4" fill="#0f0"/>
<rect x="1045" y="57" width="1" height="26" fill="#000"/>
<rect x="1040" y="60" width="11" height="18" fill="#000"/>
<rect x="1041" y="61" width="9" height="16" fill="#0f0"/>
<rect x="1061" y="70" width="1" height="37" fill="#000"/>
<rect x="1056" y="77" width="11" height="12" fill="#000"/>
<rect x="1057" y="78" width="9" height="10" fill="#0f0"/>
<rect x="1077" y="74" width="1" height="30" fill="#000"/>
<rect x="1072" y="88" width="11" height="5" fill="#000"/>
<rect x="1073" y="89" width="9" height="3" fill="#0f0"/>
<rect x="1093" y="82" width="1" height="121" fill="#000"/>
<rect x="1088" y="92" width="11" height="60" fill="#000"/>
<rect x="1089" y="93" width="9" height="58" fill="#0f0"/>
<rect x="1109" y="148" width="1" height="44" fill="#000"/>
<rect x="1104" y="151" width="11" height="37" fill="#000"/>
<rect x="1105" y="152" width="9" height="35" fill="#0f0"/>
<rect x="1125" y="187" width="1" height="13" fill="#000"/>
<rect x="1120" y="187" width="11" height="8" fill="#000"/>
<rect x="1121" y="188" width="9" height="6" fill="#0f0"/>
<rect x="1141" y="214" width="1" height="11" fill="#000"/>
<rect x="1136" y="215" width="11" height="3" fill="#000"/>
<rect x="1137" y="216" width="9" height="1" fill="#f00"/>
<rect x="1157" y="205" width="1" height="28" fill="#000"/>
<rect x="1152" y="215" width="11" height="9" fill="#000"/>
<rect x="1153" y="216" width="9" height="7" fill="#0f0"/>
<rect x="1173" y="223" width="1" height="33" fill="#000"/>
<rect x="1168" y="224" width="11" height="29" fill="#000"/>
<rect x="1169" y="225" width="9" height="27" fill="#0f0"/>
<rect x="1189" y="138" width="1" height="149" fill="#000"/>
<rect x="1184" y="245" width="11" height="8" fill="#000"/>
<rect x="1185" y="246" width="9" height="6" fill="#f00"/>
<rect x="1205" y="201" width="1" height="62" fill="#000"/>
<rect x="1200" y="245" width="11" height="12" fill="#000"/>
<rect x="1201" y="246" width="9" height="10" fill="#0f0"/>
<rect x="1221" y="237" width="1" height="38" fill="#000"/>
<rect x="1216" y="256" width="11" height="14" fill="#000"/>
<rect x="1217" y="257" width="9" height="12" fill="#0f0"/>
<rect x="1237" y="260" width="1" height="13" fill="#000"/>
<rect x="1232" y="260" width="11" height="10" fill="#000"/>
<rect x="1233" y="261" width="9" height="8" fill="#f00"/>
<rect x="1253" y="242" width="1" height="21" fill="#000"/>
<rect x="1248" y="248" width="11" height="13" fill="#000"/>
<rect x="1249" y="249" width="9" height="11" fill="#f00"/>
<rect x="1269" y="245" width="1" height="39" fill="#000"/>
<rect x="1264" y="248" width="11" height="22" fill="#000"/>
<rect x="1265" y="249" width="9" height="20" fill="#0f0"/>
<rect x="1285" y="227" width="1" height="52" fill="#000"/>
<rect x="1280" y="250" width="11" height="20" fill="#000"/>
<rect x="1281" y="251" width="9" height="18" fill="#f00"/>
<rect x="1301" y="175" width="1" height="98" fill="#000"/>
<rect x="1296" y="186" width="11" height="65" fill="#000"/>
<rect x="1297" y="187" width="9" height="63" fill="#f00"/>
<rect x="1317" y="145" width="1" height="47" fill="#000"/>
<rect x="1312" y="158" width="11" height="28" fill="#000"/>
<rect x="1313" y="159" width="9" height="26" fill="#f00"/>
<rect x="5" y="97" width="1607" height="2" fill="#f00"/>
<rect x="4" y="95" width="6" height="6" fill="#f00"/>
<rect x="6" y="97" width="2" height="2" fill="#fff"/>
<rect x="1606" y="95" width="6" height="6" fill="#f00"/>
<rect x="1608" y="97" width="2" height="2" fill="#fff"/>
<rect x="5" y="127" width="1607" height="2" fill="#f00"/>
<rect x="4" y="125" width="6" height="6" fill="#f00"/>
<rect x="6" y="127" width="2" height="2" fill="#fff"/>
<rect x="1606" y="125" width="6" height="6" fill="#f00"/>
<rect x="1608" y="127" width="2" height="2" fill="#fff"/>
<rect x="5" y="173" width="1607" height="2" fill="#00bfff"/>
<rect x="4" y="171" width="6" height="6" fill="#00bfff"/>
<rect x="6" y="173" width="2" height="2" fill="#fff"/>
<rect x="1606" y="171" width="6" height="6" fill="#00bfff"/>
<rect x="1608" y="173" width="2" height="2" fill="#fff"/>
<rect x="5" y="203" width="1607" height="2" fill="#00f"/>
<rect x="4" y="201" width="6" height="6" fill="#00f"/>
<rect x="6" y="203" width="2" height="2" fill="#fff"/>
<rect x="1606" y="201" width="6" height="6" fill="#00f"/>
<rect x="1608" y="203" width="2" height="2" fill="#fff"/>
<rect x="5" y="225" width="1607" height="2" fill="#00f"/>
<rect x="4" y="223" width="6" height="6" fill="#00f"/>
<rect x="6" y="225" width="2" height="2" fill="#fff"/>
<rect x="1606" y="223" width="6" height="6" fill="#00f"/>
<rect x="1608" y="225" width="2" height="2" fill="#fff"/>
<g shape-rendering="geometricPrecision"><line x1="1354.7" y1="304.2" x2="1388" y2="254.2" stroke="#ed1c24" stroke-width="3.2"/><polygon points="1396.6,241.8 1379.2,251.6 1394.1,261.2" fill="#ed1c24"/></g>
<polygon points="1349,25 1360,25 1354.5,30.5" fill="#000" shape-rendering="geometricPrecision"/>
<rect x="5" y="695" width="2" height="7" fill="#0f0"/>
<rect x="20" y="695" width="3" height="2" fill="#0f0"/>
<rect x="36" y="695" width="3" height="1" fill="#0f0"/>
<rect x="52" y="692" width="3" height="3" fill="#0f0"/>
<rect x="68" y="689" width="3" height="6" fill="#0f0"/>
<rect x="84" y="688" width="3" height="7" fill="#0f0"/>
<rect x="100" y="682" width="3" height="13" fill="#0f0"/>
<rect x="116" y="680" width="3" height="15" fill="#0f0"/>
<rect x="132" y="679" width="3" height="16" fill="#0f0"/>
<rect x="148" y="678" width="3" height="17" fill="#0f0"/>
<rect x="164" y="677" width="3" height="18" fill="#0f0"/>
<rect x="180" y="676" width="3" height="19" fill="#0f0"/>
<rect x="196" y="672" width="3" height="23" fill="#0f0"/>
<rect x="212" y="671" width="3" height="24" fill="#0f0"/>
<rect x="228" y="675" width="3" height="20" fill="#0f0"/>
<rect x="244" y="678" width="3" height="17" fill="#0f0"/>
<rect x="260" y="680" width="3" height="15" fill="#0f0"/>
<rect x="276" y="681" width="3" height="14" fill="#0f0"/>
<rect x="292" y="679" width="3" height="16" fill="#0f0"/>
<rect x="308" y="677" width="3" height="18" fill="#0f0"/>
<rect x="324" y="675" width="3" height="20" fill="#0f0"/>
<rect x="340" y="675" width="3" height="20" fill="#0f0"/>
<rect x="356" y="677" width="3" height="18" fill="#0f0"/>
<rect x="372" y="677" width="3" height="18" fill="#0f0"/>
<rect x="388" y="677" width="3" height="18" fill="#0f0"/>
<rect x="404" y="673" width="3" height="22" fill="#0f0"/>
<rect x="420" y="671" width="3" height="24" fill="#0f0"/>
<rect x="436" y="669" width="3" height="26" fill="#0f0"/>
<rect x="452" y="669" width="3" height="26" fill="#0f0"/>
<rect x="468" y="670" width="3" height="25" fill="#0f0"/>
<rect x="484" y="669" width="3" height="26" fill="#0f0"/>
<rect x="500" y="672" width="3" height="23" fill="#0f0"/>
<rect x="516" y="672" width="3" height="23" fill="#0f0"/>
<rect x="532" y="673" width="3" height="22" fill="#0f0"/>
<rect x="548" y="671" width="3" height="24" fill="#0f0"/>
<rect x="564" y="671" width="3" height="24" fill="#0f0"/>
<rect x="580" y="671" width="3" height="24" fill="#0f0"/>
<rect x="596" y="668" width="3" height="27" fill="#0f0"/>
<rect x="612" y="663" width="3" height="32" fill="#0f0"/>
<rect x="628" y="659" width="3" height="36" fill="#0f0"/>
<rect x="644" y="657" width="3" height="38" fill="#0f0"/>
<rect x="660" y="656" width="3" height="39" fill="#0f0"/>
<rect x="676" y="658" width="3" height="37" fill="#0f0"/>
<rect x="692" y="658" width="3" height="37" fill="#0f0"/>
<rect x="708" y="656" width="3" height="39" fill="#0f0"/>
<rect x="724" y="660" width="3" height="35" fill="#0f0"/>
<rect x="740" y="661" width="3" height="34" fill="#0f0"/>
<rect x="756" y="662" width="3" height="33" fill="#0f0"/>
<rect x="772" y="663" width="3" height="32" fill="#0f0"/>
<rect x="788" y="664" width="3" height="31" fill="#0f0"/>
<rect x="804" y="661" width="3" height="34" fill="#0f0"/>
<rect x="820" y="656" width="3" height="39" fill="#0f0"/>
<rect x="836" y="654" width="3" height="41" fill="#0f0"/>
<rect x="852" y="653" width="3" height="42" fill="#0f0"/>
<rect x="868" y="651" width="3" height="44" fill="#0f0"/>
<rect x="884" y="650" width="3" height="45" fill="#0f0"/>
<rect x="900" y="647" width="3" height="48" fill="#0f0"/>
<rect x="916" y="644" width="3" height="51" fill="#0f0"/>
<rect x="932" y="644" width="3" height="51" fill="#0f0"/>
<rect x="948" y="642" width="3" height="53" fill="#0f0"/>
<rect x="964" y="643" width="3" height="52" fill="#0f0"/>
<rect x="980" y="644" width="3" height="51" fill="#0f0"/>
<rect x="996" y="645" width="3" height="50" fill="#0f0"/>
<rect x="1012" y="640" width="3" height="55" fill="#0f0"/>
<rect x="1028" y="638" width="3" height="57" fill="#0f0"/>
<rect x="1044" y="637" width="3" height="58" fill="#0f0"/>
<rect x="1060" y="639" width="3" height="56" fill="#0f0"/>
<rect x="1076" y="641" width="3" height="54" fill="#0f0"/>
<rect x="1092" y="646" width="3" height="49" fill="#0f0"/>
<rect x="1108" y="654" width="3" height="41" fill="#0f0"/>
<rect x="1124" y="661" width="3" height="34" fill="#0f0"/>
<rect x="1140" y="668" width="3" height="27" fill="#0f0"/>
<rect x="1156" y="674" width="3" height="21" fill="#0f0"/>
<rect x="1172" y="682" width="3" height="13" fill="#0f0"/>
<rect x="1188" y="687" width="3" height="8" fill="#0f0"/>
<rect x="1204" y="692" width="3" height="3" fill="#0f0"/>
<rect x="1220" y="695" width="3" height="3" fill="#0f0"/>
<rect x="1236" y="695" width="3" height="6" fill="#0f0"/>
<rect x="1252" y="695" width="3" height="7" fill="#0f0"/>
<rect x="1268" y="695" width="3" height="10" fill="#0f0"/>
<rect x="1284" y="695" width="3" height="11" fill="#0f0"/>
<rect x="1300" y="695" width="3" height="7" fill="#0f0"/>
<rect x="1316" y="695" width="3" height="2" fill="#0f0"/>
<polyline points="5,715.7 53,705.4 101,695.4 149,687.8 197,680.5 213,678.3 245,676.5 322,676.3 327,677 413,677 421,675.2 437,674.3 453,673.2 485,672.4 517,671.2 613,670.6 629,669.3 645,667.6 661,666.3 677,664.3 693,662.3 709,661.5 725,659 741,658 757,658.2 773,659.5 853,659.5 869,658.5 885,657.6 901,656.5 917,653.5 933,651.3 949,649.3 965,648 981,647.4 990,647 997,646.2 1005,645.4 1013,644.5 1021,643.8 1029,643.3 1037,643 1045,642.5 1053,642 1061,641.2 1069,641 1093,641 1097,642 1105,643 1113,644 1125,644.6 1130,645.6 1136,646.6 1141,647.5 1145,648.2 1149,649.2 1153,650.4 1157,651.8 1162,653.6 1168,654.8 1173,655.6 1189,661.1 1205,667 1221,672.8 1237,679.3 1253,685.3 1269,688.8 1285,693.2 1301,696.4 1309,697.3 1317,698" fill="none" stroke="#f00" stroke-width="2" shape-rendering="crispEdges"/>
<line x1="5" y1="740.5" x2="1612" y2="740.5" stroke="#000" stroke-width="1" stroke-dasharray="3 3" stroke-dashoffset="-1"/>
<line x1="5" y1="765.5" x2="1612" y2="765.5" stroke="#000" stroke-width="1" stroke-dasharray="3 3" stroke-dashoffset="-1"/>
<line x1="5" y1="794.5" x2="1612" y2="794.5" stroke="#000" stroke-width="1" stroke-dasharray="3 3" stroke-dashoffset="-1"/>
<polyline points="5,761.8 21,760.8 37,760.6 53,759.3 69,757.8 85,760.8 101,754 117,757.8 133,757.8 149,757.8 165,756.8 181,757.8 197,753 213,755.8 229,764.6 245,764.6 261,762.9 277,762.4 293,757 309,756 325,756 341,758.3 357,759.8 373,759.8 389,757.5 405,752 421,752 437,752 453,755.2 469,755.8 485,754 501,762.6 517,757.8 533,757.8 549,756.8 565,755.8 581,757.8 597,751.4 613,748.4 629,747.9 645,748.9 661,752.5 677,754 693,753.5 709,749.4 725,757.5 741,757.5 757,755.8 773,755 789,754.5 805,748.1 821,746.5 837,747.4 853,747.4 869,746.1 885,745.2 901,741.9 917,742.2 933,743.9 949,743.9 965,743.9 981,746.8 997,745.2 1013,739.6 1029,741.6 1045,744.5 1061,747.4 1077,747.8 1093,758.9 1109,765 1125,766 1141,768.3 1157,769 1173,772.6 1189,772.6 1205,772.6 1221,774.5 1237,773.5 1253,771.9 1269,773.9 1285,770.9 1301,760.2 1317,757.6" fill="none" stroke="#1e90ff" stroke-width="2" shape-rendering="crispEdges"/>
<rect x="4" y="24" width="1609" height="1" fill="#000"/>
<rect x="4" y="630" width="1609" height="1" fill="#000"/>
<rect x="4" y="632" width="1609" height="1" fill="#000"/>
<rect x="4" y="720" width="1609" height="1" fill="#000"/>
<rect x="4" y="722" width="1609" height="1" fill="#000"/>
<rect x="4" y="807" width="1609" height="1" fill="#000"/>
<rect x="4" y="24" width="1" height="607" fill="#000"/>
<rect x="4" y="632" width="1" height="89" fill="#000"/>
<rect x="4" y="722" width="1" height="86" fill="#000"/>
<rect x="1612" y="24" width="1" height="607" fill="#000"/>
<rect x="1612" y="632" width="1" height="89" fill="#000"/>
<rect x="1612" y="722" width="1" height="86" fill="#000"/>
<rect x="4" y="95" width="6" height="6" fill="#f00"/>
<rect x="6" y="97" width="2" height="2" fill="#fff"/>
<rect x="4" y="125" width="6" height="6" fill="#f00"/>
<rect x="6" y="127" width="2" height="2" fill="#fff"/>
<rect x="4" y="171" width="6" height="6" fill="#00bfff"/>
<rect x="6" y="173" width="2" height="2" fill="#fff"/>
<rect x="4" y="201" width="6" height="6" fill="#00f"/>
<rect x="6" y="203" width="2" height="2" fill="#fff"/>
<rect x="4" y="223" width="6" height="6" fill="#00f"/>
<rect x="6" y="225" width="2" height="2" fill="#fff"/>
<rect x="1613" y="33" width="2" height="1" fill="#000"/>
<rect x="1613" y="66" width="2" height="1" fill="#000"/>
<rect x="1613" y="99" width="2" height="1" fill="#000"/>
<rect x="1613" y="132" width="2" height="1" fill="#000"/>
<rect x="1613" y="165" width="2" height="1" fill="#000"/>
<rect x="1613" y="198" width="2" height="1" fill="#000"/>
<rect x="1613" y="231" width="2" height="1" fill="#000"/>
<rect x="1613" y="264" width="2" height="1" fill="#000"/>
<rect x="1613" y="297" width="2" height="1" fill="#000"/>
<rect x="1613" y="330" width="2" height="1" fill="#000"/>
<rect x="1613" y="363" width="2" height="1" fill="#000"/>
<rect x="1613" y="396" width="2" height="1" fill="#000"/>
<rect x="1613" y="429" width="2" height="1" fill="#000"/>
<rect x="1613" y="462" width="2" height="1" fill="#000"/>
<rect x="1613" y="495" width="2" height="1" fill="#000"/>
<rect x="1613" y="528" width="2" height="1" fill="#000"/>
<rect x="1613" y="561" width="2" height="1" fill="#000"/>
<rect x="1613" y="594" width="2" height="1" fill="#000"/>
<rect x="1613" y="627" width="2" height="1" fill="#000"/>
<rect x="1613" y="696" width="2" height="1" fill="#000"/>
<rect x="1613" y="806" width="1" height="1" fill="#000"/>
<rect x="5" y="808" width="1" height="3" fill="#000"/>
<rect x="69" y="808" width="1" height="3" fill="#000"/>
<rect x="133" y="808" width="1" height="3" fill="#000"/>
<rect x="197" y="808" width="1" height="3" fill="#000"/>
<rect x="261" y="808" width="1" height="3" fill="#000"/>
<rect x="325" y="808" width="1" height="3" fill="#000"/>
<rect x="389" y="808" width="1" height="3" fill="#000"/>
<rect x="453" y="808" width="1" height="3" fill="#000"/>
<rect x="517" y="808" width="1" height="3" fill="#000"/>
<rect x="581" y="808" width="1" height="3" fill="#000"/>
<rect x="645" y="808" width="1" height="3" fill="#000"/>
<rect x="709" y="808" width="1" height="3" fill="#000"/>
<rect x="773" y="808" width="1" height="3" fill="#000"/>
<rect x="837" y="808" width="1" height="3" fill="#000"/>
<rect x="901" y="808" width="1" height="3" fill="#000"/>
<rect x="965" y="808" width="1" height="3" fill="#000"/>
<rect x="1029" y="808" width="1" height="3" fill="#000"/>
<rect x="1093" y="808" width="1" height="3" fill="#000"/>
<rect x="1157" y="808" width="1" height="3" fill="#000"/>
<rect x="1221" y="808" width="1" height="3" fill="#000"/>
<rect x="1285" y="808" width="1" height="3" fill="#000"/>
</svg>
<div class="t" style="left:20px;top:26.4px">USOil-,H4  75.342 75.941 75.255 75.745</div>
<svg width="10" height="6" style="left:7px;top:31px" viewBox="0 0 10 6"><polygon points="1,0.5 8,0.5 4.5,4" fill="#000"/></svg>
<div class="t" style="left:9px;top:635.4px">MACD(12,26,9) -0.0131 -0.0480</div>
<div class="t" style="left:9px;top:725.4px">RSI(14) 60.0339</div>
<div class="t pl" style="top:27px">77.620</div>
<div class="t pl" style="top:60px">77.120</div>
<div class="t pl" style="top:93px">76.640</div>
<div class="t pl" style="top:126px">76.140</div>
<div class="t pl" style="top:159px">75.640</div>
<div class="t pl" style="top:192px">75.150</div>
<div class="t pl" style="top:225px">74.660</div>
<div class="t pl" style="top:258px">74.160</div>
<div class="t pl" style="top:291px">73.670</div>
<div class="t pl" style="top:324px">73.180</div>
<div class="t pl" style="top:357px">72.680</div>
<div class="t pl" style="top:390px">72.190</div>
<div class="t pl" style="top:423px">71.700</div>
<div class="t pl" style="top:456px">71.200</div>
<div class="t pl" style="top:489px">70.710</div>
<div class="t pl" style="top:522px">70.210</div>
<div class="t pl" style="top:555px">69.720</div>
<div class="t pl" style="top:588px">69.230</div>
<div class="t pl" style="top:621px">68.730</div>
<div class="t" style="left:1615.5px;top:633px">1.1327</div>
<div class="t" style="left:1615.5px;top:690px">0.00</div>
<div class="t" style="left:1615.5px;top:708px">-0.4406</div>
<div class="t" style="left:1615.5px;top:723px">100</div>
<div class="t" style="left:1615.5px;top:735px">80</div>
<div class="t" style="left:1615.5px;top:760px">50</div>
<div class="t" style="left:1615.5px;top:788px">15</div>
<div class="t" style="left:1615.5px;top:795px">0</div>
<div class="bx" style="top:153px;background:#000"><span>75.745</span></div>
<div class="bx" style="top:92px;background:#f00"><span>76.640</span></div>
<div class="bx" style="top:122px;background:#f00"><span>76.193</span></div>
<div class="bx" style="top:168px;background:#00bfff"><span>75.506</span></div>
<div class="bx" style="top:198px;background:#00f"><span>75.058</span></div>
<div class="bx" style="top:220px;background:#00f"><span>74.730</span></div>
<div class="t" style="left:4px;top:810.3px;letter-spacing:-0.45px">29 Jun 2023</div>
<div class="t" style="left:68px;top:810.3px;letter-spacing:-0.45px">30 Jun 04:00</div>
<div class="t" style="left:132px;top:810.3px;letter-spacing:-0.45px">30 Jun 20:00</div>
<div class="t" style="left:196px;top:810.3px;letter-spacing:-0.3px">3 Jul 08:00</div>
<div class="t" style="left:260px;top:810.3px;letter-spacing:-0.3px">4 Jul 00:00</div>
<div class="t" style="left:324px;top:810.3px;letter-spacing:-0.3px">4 Jul 16:00</div>
<div class="t" style="left:388px;top:810.3px;letter-spacing:-0.3px">5 Jul 08:00</div>
<div class="t" style="left:452px;top:810.3px;letter-spacing:-0.3px">6 Jul 00:00</div>
<div class="t" style="left:516px;top:810.3px;letter-spacing:-0.3px">6 Jul 16:00</div>
<div class="t" style="left:580px;top:810.3px;letter-spacing:-0.3px">7 Jul 08:00</div>
<div class="t" style="left:644px;top:810.3px;letter-spacing:-0.3px">9 Jul 23:00</div>
<div class="t" style="left:708px;top:810.3px;letter-spacing:-0.3px">10 Jul 12:00</div>
<div class="t" style="left:772px;top:810.3px;letter-spacing:-0.3px">11 Jul 04:00</div>
<div class="t" style="left:836px;top:810.3px;letter-spacing:-0.3px">11 Jul 20:00</div>
<div class="t" style="left:900px;top:810.3px;letter-spacing:-0.3px">12 Jul 12:00</div>
<div class="t" style="left:964px;top:810.3px;letter-spacing:-0.3px">13 Jul 04:00</div>
<div class="t" style="left:1028px;top:810.3px;letter-spacing:-0.3px">13 Jul 20:00</div>
<div class="t" style="left:1092px;top:810.3px;letter-spacing:-0.3px">14 Jul 12:00</div>
<div class="t" style="left:1156px;top:810.3px;letter-spacing:-0.3px">17 Jul 00:00</div>
<div class="t" style="left:1220px;top:810.3px;letter-spacing:-0.3px">17 Jul 16:00</div>
<div class="t" style="left:1284px;top:810.3px;letter-spacing:-0.3px">18 Jul 08:00</div>
</body></html>
